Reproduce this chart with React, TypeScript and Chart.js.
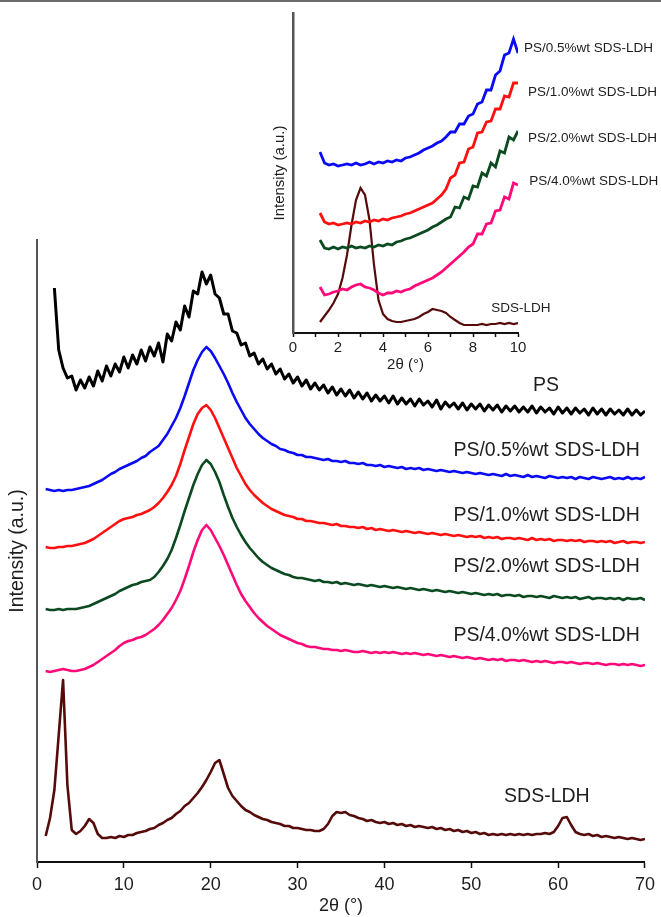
import React, { useEffect, useRef } from "react";
import { Chart, registerables } from "chart.js";

Chart.register(...registerables);

const FONT = "'Liberation Sans', Arial, sans-serif";
const TEXT = "#1e1e1e";

// ---------- main chart data (2θ in degrees, intensity in a.u. with offsets) ----------
const X_MAIN = [1,1.5,2,2.5,3,3.5,4,4.5,5,5.5,6,6.5,7,7.5,8,8.5,9,9.5,10,10.5,11,11.5,12,12.5,13,13.5,14,14.5,15,15.5,16,16.5,17,17.5,18,18.5,19,19.5,20,20.5,21,21.5,22,22.5,23,23.5,24,24.5,25,25.5,26,26.5,27,27.5,28,28.5,29,29.5,30,30.5,31,31.5,32,32.5,33,33.5,34,34.5,35,35.5,36,36.5,37,37.5,38,38.5,39,39.5,40,40.5,41,41.5,42,42.5,43,43.5,44,44.5,45,45.5,46,46.5,47,47.5,48,48.5,49,49.5,50,50.5,51,51.5,52,52.5,53,53.5,54,54.5,55,55.5,56,56.5,57,57.5,58,58.5,59,59.5,60,60.5,61,61.5,62,62.5,63,63.5,64,64.5,65,65.5,66,66.5,67,67.5,68,68.5,69,69.5,70];

const PS = [null,null,
574,512,494,484,486,472,482,474,485,476,
491,481,496,486,498,490,505,494,507,498,
512,501,515,506,519,500,528,521,540,532,
556,545,571,568,590,578,587,568,564,548,
548,531,529,517,519,506,509,498,503,493,
498,488,493,483,488,479,485,476,482,473,
479,472,477,469,475,467,473,466,472,464,
470,463,469,461,467,461,466,459,466,458,
464,458,463,456,463,457,461,455,462,453,
460,455,459,453,459,452,458,453,458,451,
457,452,457,450,456,451,456,450,455,450,
456,449,455,450,454,448,455,449,454,448,
454,449,453,447,454,448,453,447,453,448,
452,447,453,447,452,447,451];

const PS_05 = [
373,372,371,372,371,372,372,373,374,375,
376,378,380,382,385,388,390,393,395,397,
399,401,404,406,410,413,416,422,428,436,
444,454,466,479,492,502,510,515,511,504,
496,488,479,469,460,452,444,438,433,428,
424,421,418,416,413,412,410,409,407,407,
405,405,404,403,402,403,401,401,400,401,
399,399,398,399,397,397,396,397,395,396,
395,394,395,393,394,393,394,392,393,392,
391,392,391,390,391,390,389,390,389,388,
389,388,387,388,387,386,388,386,387,386,
385,387,385,386,385,384,386,385,384,385,
384,385,383,385,384,383,385,384,383,384,
385,383,384,383,385,383,384,383,385];

const PS_10 = [
315,314,314,315,315,316,316,317,318,319,
321,323,326,329,332,335,338,341,343,344,
345,347,348,350,352,355,359,364,370,377,
386,398,412,425,438,448,454,457,452,444,
434,424,414,404,394,386,378,372,367,363,
359,356,353,351,349,347,346,345,343,343,
341,341,340,339,339,338,337,338,336,336,
335,335,334,335,333,334,332,333,332,331,
332,331,330,331,330,329,330,329,328,329,
328,327,328,327,326,327,326,325,326,325,
326,324,325,324,325,323,324,324,323,324,
323,322,324,322,323,322,323,321,322,322,
321,322,321,322,320,321,321,320,321,320,
321,319,320,321,319,320,320,319,320];

const PS_20 = [
253,252,252,253,252,253,253,253,254,255,
256,258,260,262,264,266,268,271,273,275,
277,278,280,281,282,285,290,296,303,312,
324,337,351,364,377,388,397,402,398,390,
380,367,355,344,335,327,320,314,309,304,
300,297,294,292,290,288,287,285,284,284,
283,282,281,282,280,280,279,280,278,279,
278,277,278,277,276,277,276,275,276,275,
274,275,274,273,274,273,272,273,272,271,
272,271,270,271,270,269,270,269,268,269,
268,267,268,267,268,266,267,267,266,267,
265,266,266,265,266,265,264,266,265,264,
265,264,265,263,264,265,263,264,264,263,
264,263,264,262,264,263,263,264,262];

const PS_40 = [
191,190,191,192,193,192,191,191,192,193,
195,197,200,203,206,209,212,216,219,221,
222,224,225,227,230,233,237,242,248,254,
262,271,283,296,310,322,332,337,332,324,
316,307,297,287,277,268,261,255,249,244,
240,236,233,230,227,225,223,221,219,218,
216,215,215,214,213,213,212,212,211,212,
211,210,210,211,210,209,210,209,210,209,
210,209,208,209,208,209,208,207,208,207,
206,207,206,205,206,205,204,205,204,203,
204,203,202,203,202,203,201,202,202,201,
202,201,200,201,200,201,200,199,200,200,
199,200,199,198,199,199,198,199,198,197,
198,198,197,198,197,198,197,196,197];

const SDS_LDH = [
26,44,72,127,182,77,32,28,31,36,
43,39,28,24,24,25,24,26,25,27,
27,29,30,31,33,34,37,39,42,44,
48,51,56,59,64,69,75,82,90,99,
102,88,74,66,61,56,52,50,47,45,
43,42,40,39,38,36,36,34,34,33,
32,32,31,31,33,38,46,50,49,50,
47,46,44,43,41,42,40,39,40,38,
39,37,38,36,37,35,36,35,34,35,
33,34,32,33,31,32,30,31,29,30,
28,29,27,28,27,28,27,28,27,28,
27,28,27,28,28,29,28,30,36,44,
45,37,30,28,27,28,26,27,25,26,
25,24,25,24,23,24,23,22,23];

// ---------- inset data (low-angle region) ----------
const X_INSET = [1.2,1.4,1.6,1.8,2,2.2,2.4,2.6,2.8,3,3.2,3.4,3.6,3.8,4,4.2,4.4,4.6,4.8,5,5.2,5.4,5.6,5.8,6,6.2,6.4,6.6,6.8,7,7.2,7.4,7.6,7.8,8,8.2,8.4,8.6,8.8,9,9.2,9.4,9.6,9.8,10];

const IN_PS_05 = [
181,170,168,169,167,168,169,168,170,168,
169,171,169,171,170,172,171,173,172,175,
176,178,180,183,185,187,190,192,196,201,
201,209,209,217,219,229,231,243,243,258,
262,278,280,294,280];

const IN_PS_10 = [
120,111,109,110,108,109,110,109,111,110,
112,111,113,112,114,113,115,116,117,119,
120,122,124,126,128,130,134,138,144,155,
158,170,171,184,186,200,201,211,212,224,
224,237,236,250,250];

const IN_PS_20 = [
93,85,84,86,84,86,85,87,85,86,
85,87,86,88,87,89,88,91,92,94,
95,97,99,101,103,106,108,111,114,116,
126,125,136,134,147,146,160,157,170,166,
182,180,196,193,202];

const IN_PS_40 = [
46,38,39,41,42,44,43,46,48,49,
46,45,43,40,38,40,40,42,41,43,
44,47,49,51,53,55,58,61,65,69,
73,77,81,86,89,99,99,109,110,122,
123,136,134,150,148];

const IN_SDS_LDH = [
11,17,23,30,39,55,78,108,133,145,
138,113,68,33,19,14,12,11,11,12,
13,14,16,19,21,24,23,22,20,16,
13,10,8,8,8,8,9,8,9,9,
10,9,10,9,10];

const NAMES = ["PS", "PS/0.5%wt SDS-LDH", "PS/1.0%wt SDS-LDH", "PS/2.0%wt SDS-LDH", "PS/4.0%wt SDS-LDH", "SDS-LDH"];
const COLORS = ["#000000", "#0a0af5", "#ff1010", "#0b4a20", "#ff0a78", "#560a0a"];

const MAIN_TICK_STEP = 10;
const INSET_TICK_STEP = 1;

// label anchors in data coordinates
const MAIN_LABELS = [
  { text: NAMES[0], x: 58.6, y: 476, align: "center" },
  { text: NAMES[1], x: 69.4, y: 411, align: "right" },
  { text: NAMES[2], x: 69.4, y: 346, align: "right" },
  { text: NAMES[3], x: 69.4, y: 295, align: "right" },
  { text: NAMES[4], x: 69.4, y: 226, align: "right" },
  { text: NAMES[5], x: 58.7, y: 65, align: "center" },
];
const INSET_LABELS = [
  { text: NAMES[1], x: 10.27, y: 285, align: "left" },
  { text: NAMES[2], x: 10.44, y: 241, align: "left" },
  { text: NAMES[3], x: 10.44, y: 195, align: "left" },
  { text: NAMES[4], x: 10.5, y: 152, align: "left" },
  { text: NAMES[5], x: 10.13, y: 25, align: "center" },
];

function pts(xs: number[], ys: (number | null)[]) {
  return xs.map((x, i) => ({ x, y: ys[i] }));
}

function labelPlugin(labels: any[], size: number) {
  return {
    id: "curveLabels",
    afterDatasetsDraw(chart: any) {
      const { ctx, scales } = chart;
      ctx.save();
      ctx.font = `${size}px ${FONT}`;
      ctx.fillStyle = TEXT;
      ctx.textBaseline = "middle";
      labels.forEach((l) => {
        ctx.textAlign = l.align;
        ctx.fillText(l.text, scales.x.getPixelForValue(l.x), scales.y.getPixelForValue(l.y));
      });
      ctx.restore();
    },
  };
}

export default function App() {
  const mainRef = useRef<HTMLCanvasElement>(null);
  const insetRef = useRef<HTMLCanvasElement>(null);

  useEffect(() => {
    const mainSeries = [PS, PS_05, PS_10, PS_20, PS_40, SDS_LDH];
    const main = new Chart(mainRef.current!, {
      type: "line",
      data: {
        datasets: mainSeries.map((s, i) => ({
          label: NAMES[i],
          data: pts(X_MAIN, s),
          borderColor: COLORS[i],
          borderWidth: i === 0 ? 3 : 2.6,
          borderJoinStyle: "round",
          pointRadius: 0,
          tension: 0,
          fill: false,
        })),
      },
      options: {
        responsive: false,
        animation: false,
        layout: { padding: { top: 240, right: 12, left: 0, bottom: 0 } },
        plugins: { legend: { display: false }, tooltip: { enabled: false } },
        scales: {
          x: {
            type: "linear",
            min: 0,
            max: 70,
            ticks: { stepSize: MAIN_TICK_STEP, font: { family: FONT, size: 18 }, color: TEXT, padding: 6, maxRotation: 0 },
            grid: { drawOnChartArea: false, tickLength: 6, color: "#111", tickWidth: 1.5 },
            border: { color: "#111", width: 2 },
            title: { display: true, text: "2θ (°)", font: { family: FONT, size: 18 }, color: TEXT, padding: { top: 0, bottom: 0 } },
            afterFit: (s: any) => { s.height = 55; },
          },
          y: {
            type: "linear",
            min: 0,
            max: 622,
            ticks: { display: false },
            grid: { drawOnChartArea: false, drawTicks: false },
            border: { color: "#555", width: 2 },
            title: { display: true, text: "Intensity (a.u.)", font: { family: FONT, size: 19.5 }, color: TEXT, padding: { top: 6, bottom: 0 } },
            afterFit: (s: any) => { s.width = 37; },
          },
        },
      },
      plugins: [labelPlugin(MAIN_LABELS, 19.5)],
    } as any);

    const insetSeries = [IN_PS_05, IN_PS_10, IN_PS_20, IN_PS_40, IN_SDS_LDH];
    const inset = new Chart(insetRef.current!, {
      type: "line",
      data: {
        datasets: insetSeries.map((s, i) => ({
          label: NAMES[i + 1],
          data: pts(X_INSET, s),
          borderColor: COLORS[i + 1],
          borderWidth: i === 4 ? 2.2 : 2.8,
          pointRadius: 0,
          tension: 0,
          fill: false,
        })),
      },
      options: {
        responsive: false,
        animation: false,
        layout: { padding: { top: 13, right: 143, left: 0, bottom: 0 } },
        plugins: { legend: { display: false }, tooltip: { enabled: false } },
        scales: {
          x: {
            type: "linear",
            min: 0,
            max: 10,
            ticks: {
              stepSize: INSET_TICK_STEP,
              font: { family: FONT, size: 15 },
              color: TEXT,
              padding: 2,
              maxRotation: 0,
              autoSkip: false,
              callback: (v: any) => (Number(v) % 2 === 0 ? String(v) : ""),
            },
            grid: { drawOnChartArea: false, tickLength: 4, color: "#111", tickWidth: 1.5 },
            border: { color: "#111", width: 2 },
            title: { display: true, text: "2θ (°)", font: { family: FONT, size: 15 }, color: TEXT, padding: { top: 0, bottom: 6 } },
            afterFit: (s: any) => { s.height = 47; },
          },
          y: {
            type: "linear",
            min: 0,
            max: 320,
            ticks: { display: false },
            grid: { drawOnChartArea: false, drawTicks: false },
            border: { color: "#555", width: 2.5 },
            title: { display: true, text: "Intensity (a.u.)", font: { family: FONT, size: 15 }, color: TEXT, padding: { top: 9, bottom: 0 } },
            afterFit: (s: any) => { s.width = 31; },
          },
        },
      },
      plugins: [labelPlugin(INSET_LABELS, 13.5)],
    } as any);

    return () => {
      main.destroy();
      inset.destroy();
    };
  }, []);

  return (
    <div style={{ position: "absolute", left: 0, top: 0, width: 661, height: 917, background: "#fff", overflow: "hidden" }}>
      <div style={{ position: "absolute", left: 0, top: 0, width: 661, height: 2, background: "#6a6a6a" }} />
      <canvas ref={mainRef} width={661} height={917} style={{ position: "absolute", left: 0, top: 0, display: "block" }} />
      <canvas ref={insetRef} width={399} height={380} style={{ position: "absolute", left: 262, top: 0, display: "block" }} />
    </div>
  );
}
